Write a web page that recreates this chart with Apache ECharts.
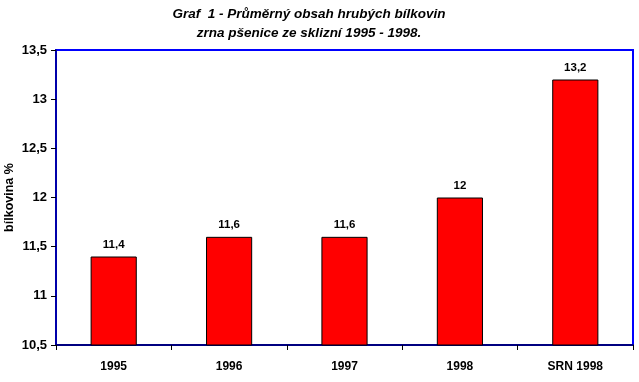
<!DOCTYPE html>
<html>
<head>
<meta charset="utf-8">
<script src="https://cdn.jsdelivr.net/npm/echarts@6/dist/echarts.min.js"></script>
<style>html,body{margin:0;padding:0;background:#fff}#c{width:639px;height:382px}</style>
</head>
<body>
<div id="c"></div>
<script>
const categories = ['1995', '1996', '1997', '1998', 'SRN 1998'];
const values = [11.4, 11.6, 11.6, 12, 13.2];
const yTicks = [10.5, 11, 11.5, 12, 12.5, 13, 13.5];

const fmt = v => String(v).replace('.', ',');
const font = "'Liberation Sans', Arial, sans-serif";
const chart = echarts.init(document.getElementById('c'));
chart.setOption({
  animation: false,
  title: {
    text: 'Graf  1 - Průměrný obsah hrubých bílkovin\nzrna pšenice ze sklizní 1995 - 1998.',
    left: 304, top: 0, textAlign: 'center',
    textStyle: { fontFamily: font, fontSize: 13.5, fontWeight: 'bold', fontStyle: 'italic', color: '#000', lineHeight: 19 }
  },
  grid: { left: 56, right: 6, top: 50, bottom: 37, show: true, borderColor: '#0000ff', borderWidth: 2, backgroundColor: '#fff', outerBoundsMode: 'none', containLabel: false },
  xAxis: {
    type: 'category', data: categories,
    axisLine: { lineStyle: { color: '#000080', width: 2 } },
    axisTick: { show: true, length: 5, lineStyle: { color: '#000', width: 1 } },
    axisLabel: { fontFamily: font, fontSize: 12, fontWeight: 'bold', color: '#000', margin: 16 }
  },
  yAxis: {
    type: 'value', min: yTicks[0], max: yTicks[yTicks.length - 1], interval: 0.5,
    name: 'bílkovina %', nameLocation: 'middle', nameGap: 40, nameRotate: 90, nameMoveOverlap: false,
    nameTextStyle: { fontFamily: font, fontSize: 12.5, fontWeight: 'bold', color: '#000' },
    axisLine: { show: true, lineStyle: { color: '#0000aa', width: 2 } },
    axisTick: { show: true, length: 5, lineStyle: { color: '#000', width: 1 } },
    splitLine: { show: false },
    axisLabel: { fontFamily: font, fontSize: 13, fontWeight: 'bold', color: '#000', margin: 9, formatter: fmt }
  },
  series: [{
    type: 'bar', data: values, barWidth: '40%',
    itemStyle: { color: '#ff0000', borderColor: '#000', borderWidth: 1 },
    label: { show: true, position: 'top', distance: 6, fontFamily: font, fontSize: 11.5, fontWeight: 'bold', color: '#000', formatter: p => fmt(p.value) }
  }]
});
</script>
</body>
</html>
